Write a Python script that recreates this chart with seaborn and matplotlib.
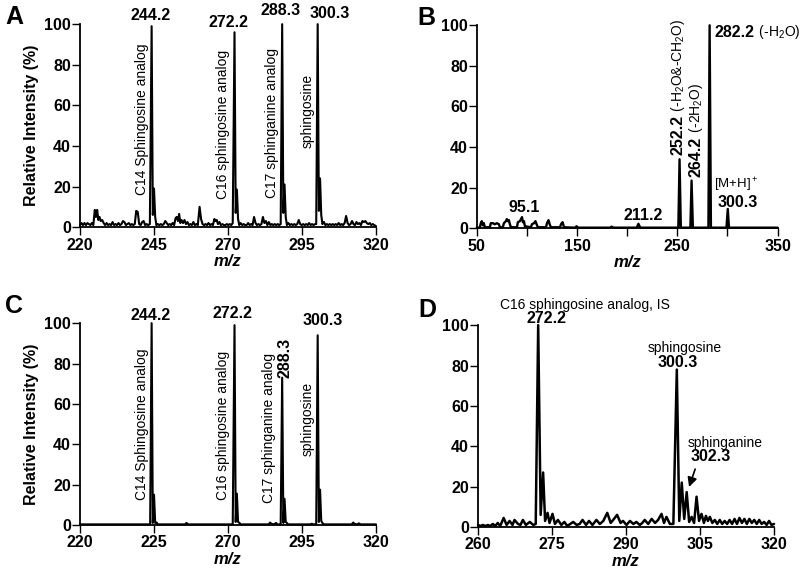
import seaborn as sns
import matplotlib.pyplot as plt
from matplotlib.ticker import FixedLocator

# Panel A: spectrum of standard mix
a_mz = [220.0, 220.5, 221.0, 221.5, 222.0, 222.5, 223.0, 223.5, 224.0, 224.5,
        225.0, 225.4, 225.8, 226.2, 226.6, 227.0, 227.5, 228.0, 228.5, 229.0,
        229.5, 230.0, 230.5, 231.0, 231.5, 232.0, 232.5, 233.0, 233.5, 234.0,
        234.5, 235.0, 235.5, 236.0, 236.5, 237.0, 237.5, 238.0, 238.5, 239.0,
        239.5, 240.0, 240.5, 241.0, 241.5, 242.0, 242.5, 243.0, 243.6, 244.2,
        244.6, 245.0, 245.4, 245.8, 246.3, 246.8, 247.3, 247.8, 248.3, 248.8,
        249.3, 249.8, 250.3, 250.8, 251.3, 251.8, 252.3, 252.7, 253.1, 253.5,
        253.9, 254.3, 254.8, 255.3, 255.8, 256.3, 256.8, 257.3, 257.8, 258.3,
        258.8, 259.3, 259.8, 260.4, 260.9, 261.4, 261.9, 262.4, 262.9, 263.4,
        263.9, 264.4, 264.9, 265.4, 265.8, 266.2, 266.6, 267.1, 267.6, 268.1,
        268.6, 269.1, 269.6, 270.1, 270.6, 271.1, 271.6, 272.2, 272.6, 273.0,
        273.4, 273.8, 274.3, 274.8, 275.3, 275.8, 276.3, 276.8, 277.3, 277.8,
        278.3, 278.8, 279.3, 279.8, 280.3, 280.8, 281.3, 281.8, 282.3, 282.8,
        283.3, 283.8, 284.3, 284.8, 285.3, 285.8, 286.3, 286.8, 287.3, 287.8,
        288.3, 288.7, 289.1, 289.5, 289.9, 290.4, 290.9, 291.4, 291.9, 292.4,
        292.9, 293.4, 293.9, 294.4, 294.9, 295.4, 295.9, 296.4, 296.9, 297.4,
        297.9, 298.4, 298.9, 299.4, 299.8, 300.3, 300.7, 301.1, 301.5, 301.9,
        302.4, 302.9, 303.4, 303.9, 304.4, 304.9, 305.4, 305.9, 306.4, 306.9,
        307.4, 307.9, 308.4, 308.9, 309.4, 309.9, 310.4, 310.9, 311.4, 311.9,
        312.4, 312.9, 313.4, 313.9, 314.4, 314.9, 315.4, 315.9, 316.4, 316.9,
        317.4, 317.9, 318.4, 318.9, 319.4, 320.0]
a_int = [1.0, 2.0, 1.0, 2.0, 1.0, 2.0, 1.5, 1.0, 2.0, 1.0,
         8.5, 5.0, 8.5, 3.5, 5.0, 3.0, 3.5, 2.0, 1.0, 2.0,
         1.0, 1.5, 1.0, 2.5, 1.0, 1.5, 1.0, 2.0, 1.0, 1.5,
         3.0, 2.5, 1.0, 1.5, 2.0, 1.0, 1.5, 1.0, 1.5, 8.0,
         7.5, 1.5, 1.0, 2.5, 3.0, 1.0, 1.5, 1.0, 1.5, 99.0,
         6.0, 19.0, 5.0, 1.0, 1.5, 1.0, 1.5, 1.0, 1.5, 3.0,
         2.0, 1.0, 1.5, 1.0, 2.0, 1.0, 4.5, 5.0, 3.0, 6.5,
         2.0, 3.5, 2.0, 3.5, 1.5, 2.5, 1.0, 1.5, 1.0, 2.5,
         1.0, 1.5, 1.0, 10.0, 4.0, 1.5, 1.0, 1.5, 1.0, 2.0,
         1.0, 1.5, 1.0, 4.0, 3.0, 3.5, 1.5, 2.5, 1.0, 1.5,
         1.0, 1.0, 1.5, 1.0, 1.5, 1.0, 2.0, 96.0, 7.0, 18.5,
         4.0, 1.0, 2.0, 1.0, 1.5, 1.0, 1.0, 2.0, 1.0, 1.5,
         1.0, 5.0, 2.0, 1.0, 1.5, 1.0, 1.5, 5.0, 2.0, 3.0,
         1.0, 2.5, 1.0, 1.5, 1.0, 1.5, 1.0, 1.5, 1.0, 1.5,
         100.0, 7.0, 21.0, 5.0, 1.0, 2.0, 1.0, 1.5, 1.0, 1.5,
         1.0, 1.5, 3.5, 1.5, 1.0, 1.5, 1.0, 1.5, 1.0, 2.0,
         1.0, 1.5, 1.0, 1.5, 1.5, 100.0, 8.0, 24.0, 6.0, 1.5,
         2.5, 1.0, 1.5, 1.0, 1.5, 1.0, 1.5, 1.0, 1.5, 1.0,
         2.0, 1.0, 1.5, 1.0, 2.0, 5.5, 2.0, 1.0, 1.5, 3.0,
         1.5, 1.0, 2.5, 1.5, 2.0, 1.0, 3.0, 2.5, 3.0, 2.0,
         1.5, 2.0, 1.0, 1.5, 1.0, 0.5]

# Panel B: product ion spectrum of sphingosine
b_mz = [50, 53, 54, 55, 56, 57, 58, 63, 64, 66, 68, 70, 72, 73, 76, 77, 79, 80,
        81, 82, 83, 84, 90, 91, 93, 95.1, 96, 97, 98, 104, 105, 107, 108.5, 110,
        111, 119, 120, 121.5, 123, 124, 133, 134, 135.5, 137, 148, 149.5, 151,
        183, 184.5, 186, 209.5, 211.2, 213, 251, 252.2, 253.5, 263, 264.2, 265.5,
        281, 282.2, 283.5, 299, 300.3, 301.5, 350]
b_int = [0.3, 0.3, 2.5, 3.5, 1.5, 2.5, 0.5, 0.5, 2.5, 2.5, 2.0, 2.5, 2.0, 0.5,
         0.5, 2.5, 3.5, 4.5, 3.5, 4.0, 2.0, 0.5, 0.5, 3.0, 3.5, 5.5, 3.0, 3.5,
         1.0, 0.5, 2.0, 2.5, 3.5, 1.5, 0.5, 0.5, 2.5, 4.0, 1.5, 0.5, 0.5, 2.0,
         3.0, 0.5, 0.3, 1.0, 0.3, 0.3, 0.8, 0.3, 0.3, 2.2, 0.3, 0.3, 34.0, 0.3,
         0.3, 23.5, 0.3, 0.3, 100.0, 0.3, 0.3, 9.5, 0.3, 0.3]

# Panel C: spectrum of spiked sample
c_mz = [220, 243.7, 244.2, 244.6, 245.0, 245.4, 245.9, 246.3, 255.5, 256, 256.5,
        271.6, 272.2, 272.6, 273.0, 273.4, 273.9, 274.3, 283.8, 284.2, 284.8,
        285.6, 286.2, 286.7, 287.8, 288.3, 288.7, 289.1, 289.5, 289.9, 290.3,
        297.8, 298.3, 298.8, 299.8, 300.3, 300.7, 301.1, 301.5, 301.9, 302.4,
        311.8, 312.3, 312.8, 313.6, 314.2, 314.8, 320]
c_int = [0.3, 0.3, 100, 1.0, 15, 1.0, 1.2, 0.3, 0.3, 1.0, 0.3,
         0.3, 99, 1.5, 15.5, 1.5, 1.0, 0.3, 0.3, 1.2, 0.5,
         0.3, 1.0, 0.3, 0.3, 73, 1.0, 13, 1.5, 1.0, 0.3,
         0.3, 0.6, 0.3, 0.3, 94, 1.5, 17.5, 2.0, 1.0, 0.3,
         0.3, 1.2, 0.5, 0.3, 0.8, 0.3, 0.3]

# Panel D: biological sample
d_mz = [260.0, 260.5, 261.0, 261.5, 262.0, 262.5, 263.0, 263.5, 264.0, 264.5,
        265.2, 265.8, 266.4, 267.0, 267.4, 268.1, 268.6, 269.1, 269.7, 270.5,
        271.2, 271.7, 272.2, 272.7, 273.2, 273.6, 274.1, 274.5, 275.1, 275.6,
        276.2, 276.9, 277.5, 278.1, 278.7, 279.3, 280.0, 280.6, 281.2, 281.9,
        282.5, 283.2, 284.0, 284.7, 285.4, 286.2, 286.9, 287.4, 288.2, 288.9,
        289.4, 290.1, 290.8, 291.5, 292.1, 292.8, 293.3, 293.8, 294.5, 295.2,
        295.9, 296.5, 297.2, 297.7, 298.2, 298.9, 299.6, 300.3, 300.8, 301.3,
        301.8, 302.3, 302.8, 303.3, 303.8, 304.3, 304.8, 305.3, 305.8, 306.2,
        306.6, 307.0, 307.5, 308.0, 308.5, 309.0, 309.5, 310.0, 310.5, 311.0,
        311.5, 312.0, 312.5, 313.0, 313.5, 314.0, 314.5, 315.0, 315.5, 316.0,
        316.5, 317.0, 317.5, 318.0, 318.5, 319.0, 319.5, 320.0]
d_int = [1.0, 0.5, 1.0, 0.5, 1.0, 0.5, 1.5, 0.5, 2.0, 0.5,
         4.5, 1.0, 3.0, 1.0, 3.5, 1.5, 1.0, 3.5, 1.0, 2.5,
         1.0, 1.5, 100.0, 6.0, 27.0, 3.0, 7.0, 2.0, 6.5, 1.5,
         3.5, 1.0, 2.5, 0.5, 1.5, 2.5, 1.0, 1.5, 3.5, 1.0,
         3.0, 1.0, 3.5, 1.5, 3.0, 7.0, 2.0, 3.5, 6.0, 2.0,
         3.0, 1.0, 3.0, 1.5, 2.5, 1.0, 2.0, 3.5, 1.5, 4.0,
         2.0, 3.5, 6.5, 2.0, 5.0, 1.5, 1.5, 78.0, 3.0, 22.0,
         4.0, 17.3, 2.5, 5.0, 2.0, 15.0, 3.0, 6.5, 2.0, 5.5,
         3.0, 5.0, 2.0, 3.5, 1.5, 3.5, 1.5, 3.0, 1.5, 3.5,
         1.5, 4.0, 1.5, 4.5, 2.0, 4.0, 1.5, 4.0, 2.0, 3.5,
         1.5, 3.5, 1.5, 2.5, 1.0, 3.0, 1.0, 1.5]

sns.set_theme(style="ticks")
plt.rcParams['font.family'] = ['Liberation Sans', 'DejaVu Sans']
plt.rcParams['mathtext.default'] = 'regular'
plt.rcParams['font.weight'] = 'bold'
plt.rcParams['axes.linewidth'] = 1.3
for k in ['text.color', 'axes.labelcolor', 'xtick.color', 'ytick.color', 'axes.edgecolor']:
    plt.rcParams[k] = 'black'

NUM = 11.5   # peak m/z labels
TXT = 10     # compound names

fig = plt.figure(figsize=(8, 5.75), dpi=100)
axA = fig.add_axes([0.100, 0.605, 0.370, 0.353])
axB = fig.add_axes([0.596, 0.603, 0.376, 0.353])
axC = fig.add_axes([0.100, 0.087, 0.370, 0.351])
axD = fig.add_axes([0.5975, 0.0835, 0.370, 0.351])


def style(ax, xlim, ticks, labels, ylabel=True):
    ax.set_xlim(xlim)
    ax.set_ylim(0, 100)
    ax.set_xticks(ticks)
    ax.set_xticklabels(labels)
    ax.set_yticks([0, 20, 40, 60, 80, 100])
    sns.despine(ax=ax)
    ax.tick_params(direction='out', length=5.5, width=1.0, labelsize=11.5, pad=2)
    ax.tick_params(axis='y', pad=1)
    for lab in ax.get_xticklabels() + ax.get_yticklabels():
        lab.set_fontweight('bold')
    ax.set_xlabel("m/z", fontsize=12, style='italic', weight='bold', labelpad=1)
    if ylabel:
        ax.set_ylabel("Relative Intensity (%)", fontsize=11.5, weight='bold', labelpad=4)


def spectrum(ax, mz, inten, lw=1.5):
    sns.lineplot(x=mz, y=inten, ax=ax, color='black', linewidth=lw,
                 estimator=None, sort=False, clip_on=False)


# ---- A
spectrum(axA, a_mz, a_int)
style(axA, (220, 320), [220, 245, 270, 295, 320], ["220", "245", "270", "295", "320"])
for x, y, s in [(244.0, 100.5, "244.2"), (270.3, 97, "272.2"), (287.9, 103, "288.3"), (304.5, 101.5, "300.3")]:
    axA.text(x, y, s, ha='center', va='bottom', fontsize=NUM, weight='bold')
for x, y, s in [(240.9, 16, "C14 Sphingosine analog"), (268.3, 14, "C16 sphingosine analog"),
                (284.9, 14.5, "C17 sphinganine analog"), (297.0, 39, "sphingosine")]:
    axA.text(x, y, s, ha='center', va='bottom', rotation=90, fontsize=TXT, weight='normal')

# ---- B
spectrum(axB, b_mz, b_int, lw=1.7)
style(axB, (50, 350), [50, 150, 250, 350], ["50", "150", "250", "350"], ylabel=False)
axB.xaxis.set_minor_locator(FixedLocator([100, 200, 300]))
axB.tick_params(which='minor', direction='out', length=5.5, width=1.0)
t = axB.text(287.5, 96.5, "282.2", ha='left', va='center', fontsize=NUM, weight='bold')
axB.annotate(" (-H$_2$O)", xy=(1, 0.5), xycoords=t, va='center', ha='left',
             fontsize=TXT, weight='normal')
t = axB.text(250.4, 36, "252.2", ha='center', va='bottom', rotation=90, fontsize=NUM, weight='bold')
axB.annotate(" (-H$_2$O&-CH$_2$O)", xy=(0.5, 1), xycoords=t, va='bottom', ha='center',
             rotation=90, fontsize=TXT, weight='normal')
t = axB.text(268.3, 25.5, "264.2", ha='center', va='bottom', rotation=90, fontsize=NUM, weight='bold')
axB.annotate(" (-2H$_2$O)", xy=(0.5, 1), xycoords=t, va='bottom', ha='center',
             rotation=90, fontsize=TXT, weight='normal')
axB.text(308.5, 16.8, "[M+H]$^+$", ha='center', va='bottom', fontsize=9.5, weight='normal')
axB.text(310, 16.3, "300.3", ha='center', va='top', fontsize=NUM, weight='bold')
axB.text(97, 10, "95.1", ha='center', va='center', fontsize=NUM, weight='bold')
axB.text(215.5, 6.5, "211.2", ha='center', va='center', fontsize=NUM, weight='bold')

# ---- C
spectrum(axC, c_mz, c_int)
style(axC, (220, 320), [220, 245, 270, 295, 320], ["220", "225", "270", "295", "320"])
for x, y, s in [(244.0, 100, "244.2"), (271.4, 101, "272.2"), (302.1, 97.5, "300.3")]:
    axC.text(x, y, s, ha='center', va='bottom', fontsize=NUM, weight='bold')
axC.text(289.3, 73, "288.3", ha='center', va='bottom', rotation=90, fontsize=NUM, weight='bold')
for x, y, s in [(240.9, 12.5, "C14 Sphingosine analog"), (268.3, 12.5, "C16 sphingosine analog"),
                (283.9, 11, "C17 sphinganine analog"), (296.9, 34, "sphingosine")]:
    axC.text(x, y, s, ha='center', va='bottom', rotation=90, fontsize=TXT, weight='normal')

# ---- D
spectrum(axD, d_mz, d_int, lw=1.8)
style(axD, (260, 320), [260, 275, 290, 305, 320], ["260", "275", "290", "305", "320"], ylabel=False)
axD.text(281.7, 110, "C16 sphingosine analog, IS", ha='center', va='center', fontsize=TXT, weight='normal')
axD.text(273.8, 103.5, "272.2", ha='center', va='center', fontsize=NUM, weight='bold')
axD.text(302.0, 88.6, "sphingosine", ha='center', va='center', fontsize=TXT, weight='normal')
axD.text(300.4, 81.7, "300.3", ha='center', va='center', fontsize=NUM, weight='bold')
axD.text(310.1, 41.6, "sphinganine", ha='center', va='center', fontsize=TXT, weight='normal')
axD.text(307.1, 34.7, "302.3", ha='center', va='center', fontsize=NUM, weight='bold')
axD.annotate("", xy=(302.6, 18.5), xytext=(304.2, 30),
             arrowprops=dict(arrowstyle='-|>', color='black', lw=1.2, mutation_scale=14))

for x, y, s in [(0.0175, 0.970, "A"), (0.533, 0.969, "B"), (0.0175, 0.468, "C"), (0.534, 0.461, "D")]:
    fig.text(x, y, s, ha='center', va='center', fontsize=18, weight='bold')

fig.savefig("out.png", dpi=100)
